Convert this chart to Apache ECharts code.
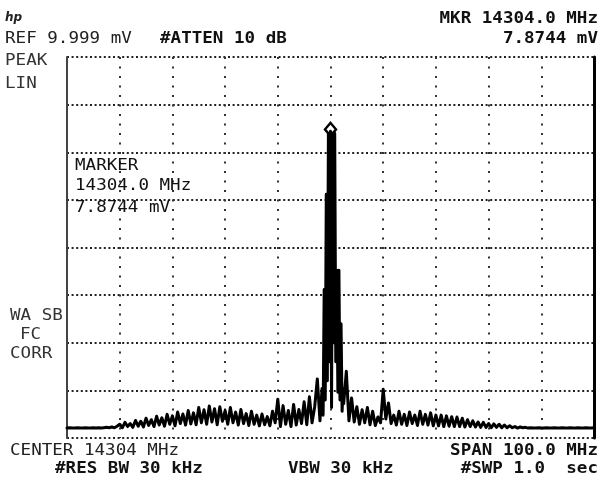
<!DOCTYPE html>
<html>
<head>
<meta charset="utf-8">
<script src="https://cdn.jsdelivr.net/npm/echarts@6/dist/echarts.min.js"></script>
<style>
  html, body { margin: 0; padding: 0; background: #fff; }
  #chart { width: 609px; height: 481px; }
</style>
</head>
<body>
<div id="chart"></div>
<script>
// ---- Sweep (frequency offset from centre 14304 MHz, in MHz) ----
const spanMHz = 100;
const sweepStepMHz = 0.5;           // trace sample spacing away from the carrier
const xTickStepMHz = 10;            // 10 horizontal divisions
const yMaxMv = 10;                  // REF 9.999 mV (linear scale)
const yDivMv = 1.25;                // 8 vertical divisions

// ---- Trace amplitude (mV), read from the screen, left to right ----
// left part: offsets -50 ... -2.0 MHz, every 0.5 MHz
const floorLeft = [0.26,0.27,0.26,0.26,0.27,0.26,0.26,0.27,0.26,0.26,0.27,0.26,0.27,0.26,0.27,0.28,0.27,0.29,0.27,0.31];
const shoulderLeftRise = [0.36,0.27,0.41,0.30,0.38,0.28,0.46,0.31,0.44,0.29,0.52,0.33,0.48,0.30,0.57,0.34,0.53,0.31,0.62,0.36,0.58,0.32,0.68,0.38,0.63,0.34,0.72,0.37,0.66,0.35];
const shoulderLeftTop = [0.80,0.40,0.74,0.36,0.84,0.42,0.77,0.35,0.82,0.44,0.72,0.36,0.80,0.40,0.68,0.34,0.75,0.38,0.64,0.33,0.70,0.36,0.60,0.32,0.63,0.35,0.56];
const preCarrier = [0.32,0.70,0.40,1.02,0.30,0.85,0.36,0.72,0.30,0.88,0.34,0.75,0.38,0.95,0.35,1.08,0.40,0.82,1.55,0.45];
const leftStartMHz = -50;

// carrier: finely sampled sweep around the centre
const carrierOffsetsMHz = [-1.8,-1.6,-1.4,-1.2,-1.0,-0.8,-0.6,-0.4,-0.2,0.0,0.2,0.4,0.6,0.8,1.0,1.2,1.4,1.6,1.8,2.0,2.2,2.4];
const carrierMv         = [0.5, 1.3, 0.6, 3.9, 1.0, 6.4, 1.5, 8.0, 2.0, 8.05,0.8,8.0, 2.5,8.0, 2.0,4.4, 1.2,4.4, 1.0,3.0, 0.7,1.3];

// right part: offsets 2.5 ... 50 MHz, every 0.5 MHz
const postCarrier = [0.9,1.75];
const shoulderRight = [0.45,1.05,0.42,0.82,0.36,0.74,0.40,0.80,0.35,0.70,0.33,0.55,0.40,1.28,0.50,0.92,0.38,0.60,0.34,0.70,0.36,0.62,0.33,0.68,0.38,0.60,0.33,0.70,0.36,0.62,0.34,0.66,0.32,0.60];
const tailRight = [0.32,0.60,0.30,0.58,0.31,0.56,0.30,0.55,0.30,0.52,0.29,0.48,0.30,0.45,0.29,0.42,0.28,0.41,0.28,0.38,0.27,0.37,0.28,0.36,0.27,0.34,0.27,0.32,0.27,0.30,0.26,0.29,0.27,0.28,0.26];
const floorRight = [0.27,0.26,0.26,0.27,0.26,0.26,0.27,0.26,0.26,0.27,0.26,0.26,0.27,0.26,0.26,0.27,0.26,0.26,0.27,0.26,0.26,0.27,0.26,0.26,0.27];
const rightStartMHz = 2.5;

// ---- Marker ----
const markerOffsetMHz = 0;      // marker at centre frequency (14304.0 MHz)
const markerDisplayMv = 8.1;    // where the diamond sits on screen

const leftVals = [].concat(floorLeft, shoulderLeftRise, shoulderLeftTop, preCarrier);
const rightVals = [].concat(postCarrier, shoulderRight, tailRight, floorRight);
const traceData = []
  .concat(leftVals.map((v, i) => [leftStartMHz + i * sweepStepMHz, v]))
  .concat(carrierMv.map((v, i) => [carrierOffsetsMHz[i], v]))
  .concat(rightVals.map((v, i) => [rightStartMHz + i * sweepStepMHz, v]));

const chart = echarts.init(document.getElementById('chart'), null, { renderer: 'canvas' });

const MONO = '"DejaVu Sans Mono", "Liberation Mono", monospace';
const SX = 1.17;
function txt(text, x, y, opts) {
  opts = opts || {};
  return {
    type: 'text', x: x, y: y, scaleX: SX, z: 10,
    style: {
      text: text,
      font: (opts.weight || 'bold') + ' 15px ' + MONO,
      fill: opts.fill || '#111',
      textAlign: opts.align || 'left',
      textVerticalAlign: 'middle'
    }
  };
}

chart.setOption({
  animation: false,
  backgroundColor: '#ffffff',
  grid: { left: 67, right: 15, top: 57, bottom: 43, containLabel: false },
  xAxis: {
    type: 'value',
    min: -spanMHz / 2, max: spanMHz / 2, interval: xTickStepMHz,
    axisLine: { show: false }, axisTick: { show: false }, axisLabel: { show: false },
    splitLine: { show: true, lineStyle: { color: '#333', width: 2, type: [2, 7.5] } }
  },
  yAxis: [{
    type: 'value', position: 'left',
    min: 0, max: yMaxMv, interval: yDivMv,
    axisLine: { show: true, onZero: false, lineStyle: { color: '#444', width: 2 } },
    axisTick: { show: false }, axisLabel: { show: false },
    splitLine: { show: true, lineStyle: { color: '#222', width: 2, type: [2, 2.6] } }
  }, {
    type: 'value', position: 'right',
    min: 0, max: yMaxMv, interval: yDivMv,
    axisLine: { show: true, onZero: false, lineStyle: { color: '#000', width: 3 } },
    axisTick: { show: false }, axisLabel: { show: false },
    splitLine: { show: false }
  }],
  series: [{
    type: 'line',
    data: traceData,
    showSymbol: false,
    symbol: 'none',
    sampling: null,
    lineStyle: { color: '#000', width: 3, join: 'round', cap: 'round' },
    z: 5,
    markPoint: {
      symbol: 'diamond',
      symbolSize: [11, 13],
      itemStyle: { color: '#fff', borderColor: '#000', borderWidth: 2.5 },
      label: { show: false },
      data: [{ coord: [markerOffsetMHz, markerDisplayMv] }]
    }
  }],
  graphic: [
    { type: 'text', x: 5, y: 18, z: 10, style: { text: 'hp', font: 'italic bold 12px "DejaVu Sans"', fill: '#222', textVerticalAlign: 'middle' } },
    txt('MKR 14304.0 MHz', 598, 19, { align: 'right' }),
    txt('REF 9.999 mV', 5, 39, { weight: 'normal', fill: '#222' }),
    txt('#ATTEN 10 dB', 160, 39),
    txt('7.8744 mV', 598, 39, { align: 'right' }),
    txt('PEAK', 5, 61, { weight: 'normal', fill: '#333' }),
    txt('LIN', 5, 84, { weight: 'normal', fill: '#333' }),
    txt('MARKER', 75, 166, { weight: 'normal', fill: '#111' }),
    txt('14304.0 MHz', 75, 186, { weight: 'normal', fill: '#111' }),
    txt('7.8744 mV', 75, 208, { weight: 'normal', fill: '#111' }),
    txt('WA SB', 10, 316, { weight: 'normal', fill: '#333' }),
    txt('FC', 20, 335, { weight: 'normal', fill: '#333' }),
    txt('CORR', 10, 354, { weight: 'normal', fill: '#333' }),
    txt('CENTER 14304 MHz', 10, 451, { weight: 'normal', fill: '#222' }),
    txt('SPAN 100.0 MHz', 598, 451, { align: 'right' }),
    txt('#RES BW 30 kHz', 55, 469),
    txt('VBW 30 kHz', 288, 469),
    txt('#SWP 1.0  sec', 598, 469, { align: 'right' })
  ]
});
</script>
</body>
</html>
